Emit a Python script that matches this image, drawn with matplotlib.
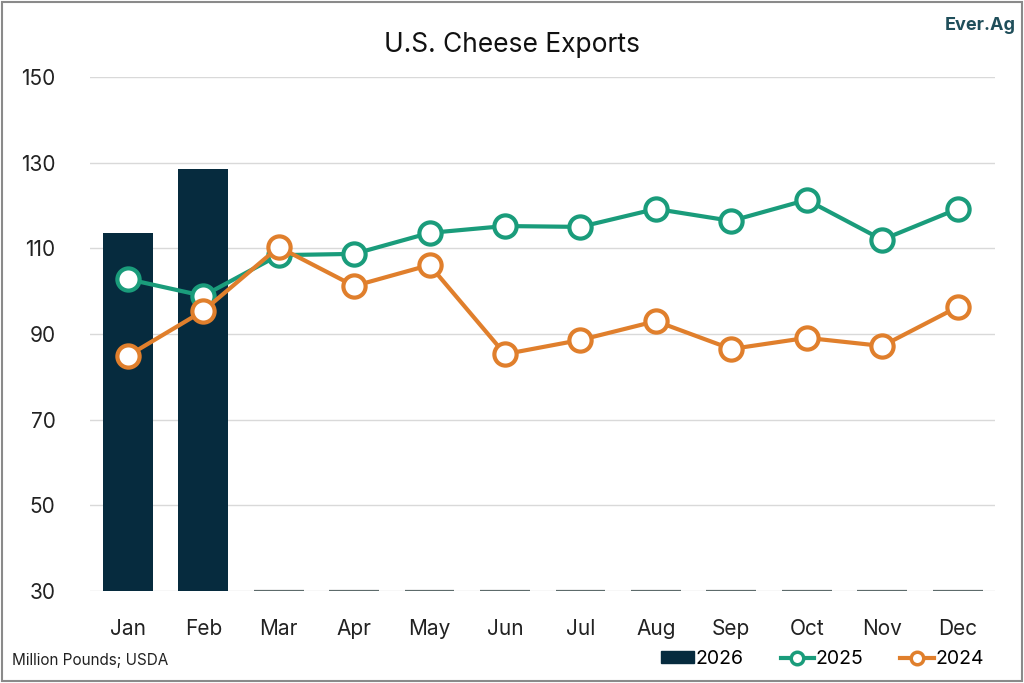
import matplotlib.pyplot as plt
import numpy as np
from matplotlib.lines import Line2D
from matplotlib.patches import Patch, Rectangle

plt.rcParams['font.family'] = ['Inter', 'DejaVu Sans']

months = ['Jan', 'Feb', 'Mar', 'Apr', 'May', 'Jun', 'Jul', 'Aug', 'Sep', 'Oct', 'Nov', 'Dec']
exports_2026 = [113.6, 128.5, None, None, None, None, None, None, None, None, None, None]
exports_2025 = [102.8, 98.9, 108.4, 108.7, 113.6, 115.2, 115.0, 119.2, 116.4, 121.3, 112.0, 119.2]
exports_2024 = [84.9, 95.4, 110.3, 101.2, 106.1, 85.3, 88.6, 93.0, 86.5, 89.1, 87.2, 96.3]

c_2026 = '#062b3e'
c_2025 = '#1a9c7b'
c_2024 = '#e07f2c'
base = 30
bar_w = 0.66

fig = plt.figure(figsize=(10.24, 6.83), dpi=100)
ax = fig.add_axes([0.088, 0.1347, 0.884, 0.7526])

x = np.arange(len(months))

# bars; months without data show as a flat line on the baseline
for i, v in enumerate(exports_2026):
    if v is None:
        ax.hlines(base, i - bar_w / 2, i + bar_w / 2, color='#5d6b6b', linewidth=1.6, zorder=2)
    else:
        ax.bar(i, v - base, bottom=base, width=bar_w, color=c_2026, zorder=2)

ax.plot(x, exports_2025, color=c_2025, linewidth=3, marker='o', markersize=16,
        markerfacecolor='white', markeredgecolor=c_2025, markeredgewidth=3, zorder=3)
ax.plot(x, exports_2024, color=c_2024, linewidth=3, marker='o', markersize=16,
        markerfacecolor='white', markeredgecolor=c_2024, markeredgewidth=3, zorder=4)

ax.set_xlim(-0.5, 11.5)
ax.set_ylim(30, 150)
ax.set_yticks([30, 50, 70, 90, 110, 130, 150])
ax.set_xticks(x)
ax.set_xticklabels(months)
ax.tick_params(axis='both', length=0, labelsize=15, colors='#222222')
ax.tick_params(axis='x', pad=20)
ax.tick_params(axis='y', pad=25)
ax.grid(axis='y', color='#d9d9d9', linewidth=1, zorder=0)
ax.set_axisbelow(True)
for s in ax.spines.values():
    s.set_visible(False)

fig.text(0.5, 0.934, 'U.S. Cheese Exports', ha='center', va='center', fontsize=19, color='#111111')
fig.text(0.012, 0.033, 'Million Pounds; USDA', ha='left', va='center', fontsize=11, color='#222222')
fig.text(0.957, 0.962, 'Ever.Ag', ha='center', va='center', fontsize=13, fontweight='bold', color='#1f4e5a')

handles = [
    Patch(facecolor=c_2026, edgecolor=c_2026),
    Line2D([], [], color=c_2025, linewidth=3, marker='o', markersize=9,
           markerfacecolor='white', markeredgecolor=c_2025, markeredgewidth=2.5),
    Line2D([], [], color=c_2024, linewidth=3, marker='o', markersize=9,
           markerfacecolor='white', markeredgecolor=c_2024, markeredgewidth=2.5),
]
fig.legend(handles, ['2026', '2025', '2024'], loc='center right', bbox_to_anchor=(0.978, 0.035),
           ncol=3, frameon=False, fontsize=14, handlelength=1.7, handleheight=0.6,
           handletextpad=0.1, columnspacing=1.9)

# outer frame around the image
fig.patches.append(Rectangle((0.002, 0.003), 0.996, 0.994, transform=fig.transFigure,
                             fill=False, edgecolor='#8a8a8a', linewidth=1.5))

fig.savefig('out.png', dpi=100)
